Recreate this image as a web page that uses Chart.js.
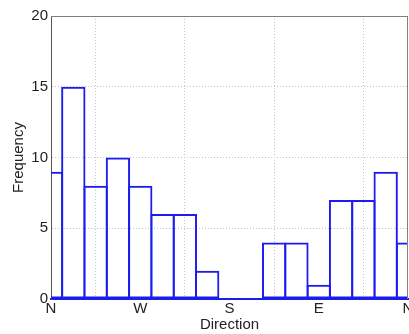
<!DOCTYPE html>
<html>
<head>
<meta charset="utf-8">
<script src="https://cdn.jsdelivr.net/npm/chart.js@4/dist/chart.umd.min.js"></script>
<style>
  html, body { margin: 0; padding: 0; background: #fff; overflow: hidden; }
</style>
</head>
<body>
<canvas id="dirChart" width="409" height="334"></canvas>
<script>
// bin centres in degrees, N -> W -> S -> E -> N
const directions = [0, 22.5, 45, 67.5, 90, 112.5, 135, 157.5, 180, 202.5, 225, 247.5, 270, 292.5, 315, 337.5, 360];
const frequency = [9, 15, 8, 10, 8, 6, 6, 2, 0, 0, 4, 4, 1, 7, 7, 9, 4];
const xTickValues = [0, 90, 180, 270, 360];
const xTickLabels = ['N', 'W', 'S', 'E', 'N'];
const yTicks = [0, 5, 10, 15, 20];

const barBlue = 'rgb(28, 28, 238)';
const font = { family: 'Liberation Sans, Arial, sans-serif', size: 15 };

// box line on top and right, like the matlab axes
const frameBox = {
    id: 'frameBox',
    afterDatasetsDraw(chart) {
        const a = chart.chartArea;
        const ctx = chart.ctx;
        ctx.save();
        ctx.strokeStyle = '#808080';
        ctx.lineWidth = 1;
        ctx.beginPath();
        ctx.moveTo(a.left, a.top + 0.5);
        ctx.lineTo(a.right, a.top + 0.5);
        ctx.moveTo(a.right - 0.5, a.top);
        ctx.lineTo(a.right - 0.5, a.bottom);
        ctx.stroke();
        ctx.restore();
    }
};

const ctx = document.getElementById('dirChart');
new Chart(ctx, {
    type: 'bar',
    data: {
        datasets: [{
            data: directions.map((d, i) => ({ x: d, y: frequency[i] })),
            backgroundColor: 'rgba(0,0,0,0)',
            borderColor: barBlue,
            borderWidth: 2,
            borderSkipped: false,
            barPercentage: 1.09,
            categoryPercentage: 1
        }]
    },
    options: {
        responsive: false,
        animation: false,
        layout: { padding: { top: 16, right: 1, left: 0, bottom: 0 } },
        plugins: {
            legend: { display: false },
            tooltip: { enabled: false }
        },
        scales: {
            x: {
                type: 'linear',
                min: 0,
                max: 360,
                offset: false,
                afterBuildTicks: (scale) => {
                    scale.ticks = xTickValues.map(v => ({ value: v }));
                },
                afterFit: (scale) => {
                    scale.height = 35;
                    scale.paddingLeft = 0;
                    scale.paddingRight = 0;
                },
                ticks: {
                    autoSkip: false,
                    maxRotation: 0,
                    padding: 1,
                    color: '#222',
                    font: font,
                    callback: (v) => xTickLabels[xTickValues.indexOf(v)]
                },
                grid: {
                    color: '#c4c4c4',
                    lineWidth: 1,
                    drawTicks: false
                },
                border: { color: barBlue, width: 2, dash: [1, 2] },
                title: {
                    display: true,
                    text: 'Direction',
                    color: '#222',
                    font: font,
                    padding: { top: 0, bottom: 0 }
                }
            },
            y: {
                min: 0,
                max: 20,
                afterBuildTicks: (scale) => {
                    scale.ticks = yTicks.map(v => ({ value: v }));
                },
                afterFit: (scale) => { scale.width = 51; },
                ticks: {
                    padding: 3,
                    color: '#222',
                    font: font
                },
                grid: {
                    color: '#c4c4c4',
                    lineWidth: 1,
                    drawTicks: false
                },
                border: { color: '#555', width: 1, dash: [1, 2] },
                title: {
                    display: true,
                    text: 'Frequency',
                    color: '#222',
                    font: font,
                    padding: { top: 10, bottom: 0 }
                }
            }
        }
    },
    plugins: [frameBox]
});
</script>
</body>
</html>
